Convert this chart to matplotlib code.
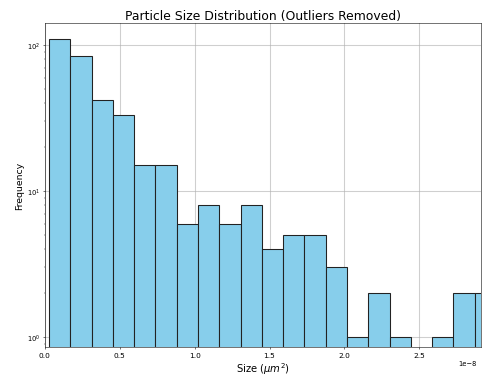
import matplotlib
matplotlib.use("Agg")
import matplotlib.pyplot as plt
import numpy as np

# histogram (sizes in m^2, 1e-8 scale)
bin_start = 0.027e-8
bin_width = 0.1422e-8
counts = [110, 84, 42, 33, 15, 15, 6, 8, 6, 8, 4, 5, 5, 3, 1, 2, 1, 0, 1, 2, 2]

edges = bin_start + bin_width * np.arange(len(counts) + 1)
centers = (edges[:-1] + edges[1:]) / 2.

fig = plt.figure(figsize=(10, 7.867), dpi=48.3)
ax = fig.add_axes([0.093, 0.084, 0.903, 0.852])
ax.hist(centers, bins=edges, weights=counts, color='skyblue',
        edgecolor='#222222', linewidth=1.6, log=True)
ax.set_xlim(0, 2.913e-8)
ax.set_ylim(0.855, 141)
ax.set_title('Particle Size Distribution (Outliers Removed)', fontsize=18.5)
ax.set_xlabel(r'Size ($\mu m^2$)', fontsize=15)
ax.set_ylabel('Frequency', fontsize=14)
ax.tick_params(axis='x', labelsize=11)
ax.tick_params(axis='y', labelsize=10)
# keep the "1e-8" offset label inside the figure
ax.xaxis.get_offset_text().set_fontsize(10)
ax.xaxis.get_offset_text().set_x(0.99)
ax.grid(True, color='#b0b0b0', alpha=0.6, linewidth=1.6)
ax.set_axisbelow(True)

fig.savefig('out.png', dpi=48.3)
